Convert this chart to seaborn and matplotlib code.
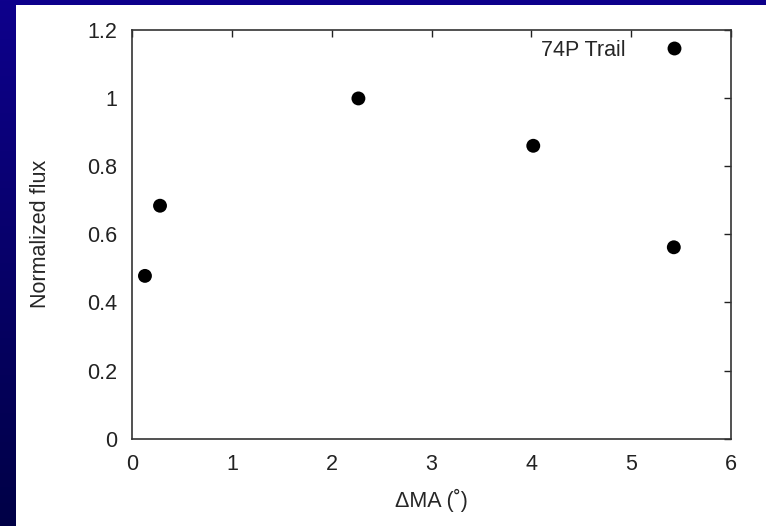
import numpy as np
import pandas as pd
import matplotlib
matplotlib.use("Agg")
import matplotlib.pyplot as plt
import matplotlib.ticker as mticker
import seaborn as sns

# --- data ---
delta_ma = [0.127, 0.278, 2.267, 4.020, 5.429]
norm_flux = [0.478, 0.684, 0.999, 0.860, 0.562]
series_label = "74P Trail"
x_ticks = [0, 1, 2, 3, 4, 5, 6]
y_ticks = [0, 0.2, 0.4, 0.6, 0.8, 1.0, 1.2]

df = pd.DataFrame({"dMA": delta_ma, "flux": norm_flux, "set": series_label})

sns.set_style("white")
plt.rcParams["font.family"] = ["Liberation Sans", "DejaVu Sans"]
FS = 15.5

fig = plt.figure(figsize=(7.66, 5.26), dpi=100)

# --- slide-style background: blue gradient band on left/top ---
bg = fig.add_axes([0, 0, 1, 1], zorder=-10)
grad = np.linspace(0, 1, 256).reshape(-1, 1)
top_col = np.array([14, 0, 140]) / 255
bot_col = np.array([0, 0, 70]) / 255
img = top_col[None, None, :] * (1 - grad[:, :, None]) + bot_col[None, None, :] * grad[:, :, None]
bg.imshow(img, aspect="auto", extent=[0, 1, 0, 1])
bg.add_patch(plt.Rectangle((16 / 766, 0), 1, 1 - 5 / 526, color="white", lw=0))
bg.set_xlim(0, 1)
bg.set_ylim(0, 1)
bg.axis("off")

ax = fig.add_axes([0.1727, 0.166, 0.7813, 0.777])
sns.scatterplot(data=df, x="dMA", y="flux", hue="set", palette=["black"],
                s=100, edgecolor="none", ax=ax, zorder=3)

ax.set_xlim(0, 6)
ax.set_ylim(0, 1.2)
ax.set_xticks(x_ticks)
ax.set_yticks(y_ticks)
ax.yaxis.set_major_formatter(mticker.FormatStrFormatter("%g"))
ax.tick_params(direction="in", length=5, width=1, top=True, right=True,
               labelsize=FS, colors="#222222")
ax.tick_params(axis="y", pad=11)
ax.tick_params(axis="x", pad=11)
for sp in ax.spines.values():
    sp.set_visible(True)
    sp.set_color("#333333")
    sp.set_linewidth(1.2)

ax.set_xlabel("ΔMA (˚)", fontsize=FS, labelpad=10)
ax.set_ylabel("Normalized flux", fontsize=FS, labelpad=26)

ax.legend(loc="upper right", frameon=False, markerfirst=False, fontsize=FS,
          bbox_to_anchor=(0.962, 1.008), handletextpad=1.25, markerscale=1.0,
          borderaxespad=0.2)

fig.savefig("out.png", dpi=100)
print("[ok] Saved out.png")
